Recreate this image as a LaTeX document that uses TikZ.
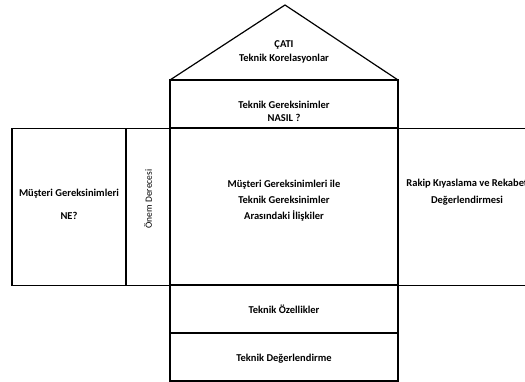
\documentclass[tikz,border=0pt]{standalone}
\usepackage{fontspec}
\setmainfont{Carlito}
\tikzset{
  kutu/.style={draw,line width=1.2pt,inner sep=0pt,align=center,font=\fontsize{10.5}{15}\selectfont\bfseries},
  yazi/.style={align=center,font=\fontsize{10.5}{15}\selectfont\bfseries}
}
\begin{document}
\begin{tikzpicture}[x=1pt,y=-1pt]
\useasboundingbox (0,0) rectangle (525,382);
\clip (0,0) rectangle (525,382);
% cati
\coordinate (tepe) at (285,5);
\coordinate (sol) at (170,80);
\coordinate (sag) at (398,80);
\draw[line width=1.2pt,line join=round] (sol)--(tepe)--(sag);
\node[yazi,font=\fontsize{10.5}{14}\selectfont\bfseries] (cati) at (284,52) {ÇATI\\Teknik Korelasyonlar};
% nasil
\node[kutu,minimum width=228pt,minimum height=48pt] (nasil) at (284,104) {};
\node[yazi,font=\fontsize{10.5}{13}\selectfont\bfseries] (nasilyazi) at (284,111) {Teknik Gereksinimler\\NASIL ?};
% orta sira
\node[kutu,minimum width=114pt,minimum height=157pt] (ne) at (69,207) {};
\node[yazi,font=\fontsize{10.5}{23}\selectfont\bfseries] (neyazi) at (69,204) {Müşteri Gereksinimleri\\NE?};
\node[kutu,minimum width=44pt,minimum height=157pt] (onem) at (148,207) {};
\node[font=\fontsize{9.5}{10}\selectfont,rotate=90] (onemyazi) at (148,199) {Önem Derecesi};
\node[kutu,minimum width=228pt,minimum height=157pt] (iliski) at (284,207) {};
\node[yazi,font=\fontsize{10.5}{16}\selectfont\bfseries] (iliskiyazi) at (284,201) {Müşteri Gereksinimleri ile\\Teknik Gereksinimler\\Arasındaki İlişkiler};
\node[kutu,minimum width=138pt,minimum height=157pt] (rakip) at (467,207) {};
\node[yazi,font=\fontsize{10.5}{17}\selectfont\bfseries] (rakipyazi) at (467,192) {Rakip Kıyaslama ve Rekabet\\Değerlendirmesi};
% alt
\node[kutu,minimum width=228pt,minimum height=48pt] (ozellik) at (284,309) {Teknik Özellikler};
\node[kutu,minimum width=228pt,minimum height=48pt] (deger) at (284,357) {};
\node[yazi] (degeryazi) at (284,359) {Teknik Değerlendirme};
\end{tikzpicture}
\end{document}
